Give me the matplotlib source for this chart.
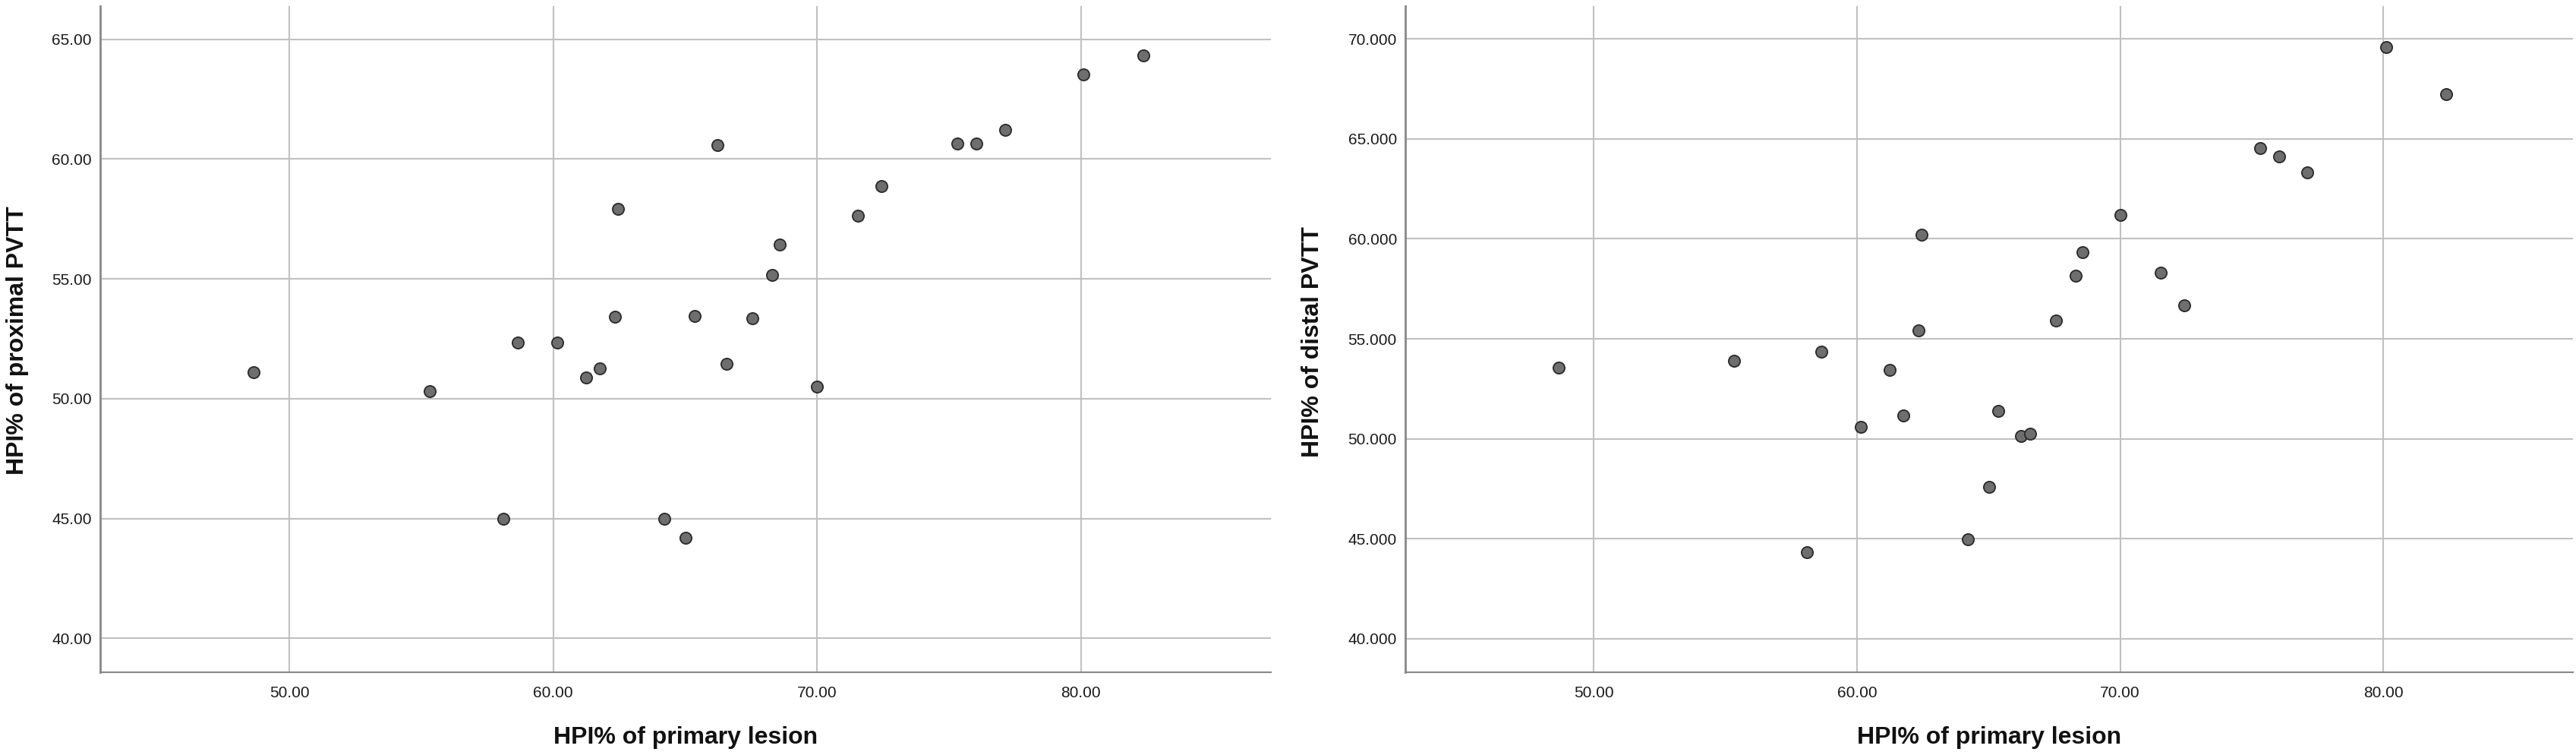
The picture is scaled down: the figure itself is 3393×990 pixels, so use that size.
import matplotlib
matplotlib.use("Agg")
import matplotlib.pyplot as plt
from matplotlib.ticker import FormatStrFormatter

# HPI% of primary lesion (shared x)
primary = [48.65, 55.33, 58.65, 58.10, 60.15, 61.25, 61.77, 62.35, 62.45, 64.20,
           65.02, 65.36, 66.23, 66.58, 67.56, 68.30, 68.58, 70.00, 71.55, 72.45,
           75.33, 76.03, 77.12, 80.10, 82.38]
# HPI% of proximal PVTT
proximal = [51.10, 50.32, 52.34, 44.98, 52.34, 50.88, 51.26, 53.42, 57.92, 44.97,
            44.18, 53.46, 60.58, 51.44, 53.34, 55.16, 56.44, 50.50, 57.64, 58.88,
            60.64, 60.66, 61.22, 63.54, 64.34]
# HPI% of distal PVTT
distal = [53.56, 53.90, 54.36, 44.33, 50.59, 53.46, 51.18, 55.41, 60.22, 44.97,
          47.61, 51.38, 50.15, 50.27, 55.90, 58.15, 59.35, 61.20, 58.29, 56.69,
          64.54, 64.14, 63.32, 69.59, 67.23]

x_label = "HPI% of primary lesion"
y_labels = ["HPI% of proximal PVTT", "HPI% of distal PVTT"]
x_ticks = [50, 60, 70, 80]
y_ticks_left = [40, 45, 50, 55, 60, 65]
y_ticks_right = [40, 45, 50, 55, 60, 65, 70]

plt.rcParams['font.family'] = ['Liberation Sans', 'DejaVu Sans']

W, H = 3393, 990
fig = plt.figure(figsize=(W / 100, H / 100), dpi=100)
fig.patch.set_facecolor('white')

bottom = (990 - 885) / 990
top = 1 - 7.6 / 990
height = top - bottom

ax1 = fig.add_axes([132 / W, bottom, (1674 - 132) / W, height])
ax2 = fig.add_axes([1851 / W, bottom, (3388.6 - 1851) / W, height])

grid_color = '#c0c0c0'
spine_color = '#888888'

configs = [
    (ax1, proximal, (38.58, 66.4), y_ticks_left, '%.2f'),
    (ax2, distal, (38.32, 71.66), y_ticks_right, '%.3f'),
]

for ax, yvals, ylim, yt, fmt in configs:
    ax.set_xlim(42.83, 87.2)
    ax.set_ylim(*ylim)
    ax.set_xticks(x_ticks)
    ax.set_yticks(yt)
    ax.xaxis.set_major_formatter(FormatStrFormatter('%.2f'))
    ax.yaxis.set_major_formatter(FormatStrFormatter(fmt))
    ax.grid(True, color=grid_color, linewidth=1.5, zorder=0)
    ax.set_axisbelow(True)
    for s in ['top', 'right']:
        ax.spines[s].set_visible(False)
    ax.spines['left'].set_color(spine_color)
    ax.spines['left'].set_linewidth(2.0)
    ax.spines['bottom'].set_color(spine_color)
    ax.spines['bottom'].set_linewidth(1.5)
    ax.tick_params(axis='both', length=0, labelsize=15, colors='#1a1a1a')
    ax.tick_params(axis='y', pad=8)
    ax.tick_params(axis='x', pad=13)
    ax.scatter(primary, yvals, s=120, facecolor='#6e6e6e', edgecolor='#2a2a2a',
               linewidth=1.3, zorder=3)

# axis titles
fig.text(903 / W, 1 - 971 / H, x_label, ha='center', va='center',
         fontsize=23, fontweight='bold', color='#111111')
fig.text(2620 / W, 1 - 971 / H, x_label, ha='center', va='center',
         fontsize=23, fontweight='bold', color='#111111')
fig.text(23 / W, 1 - 448 / H, y_labels[0], ha='center', va='center',
         rotation=90, fontsize=23, fontweight='bold', color='#111111')
fig.text(1729 / W, 1 - 450 / H, y_labels[1], ha='center', va='center',
         rotation=90, fontsize=23, fontweight='bold', color='#111111')

fig.savefig('out.png', dpi=100, facecolor='white')
